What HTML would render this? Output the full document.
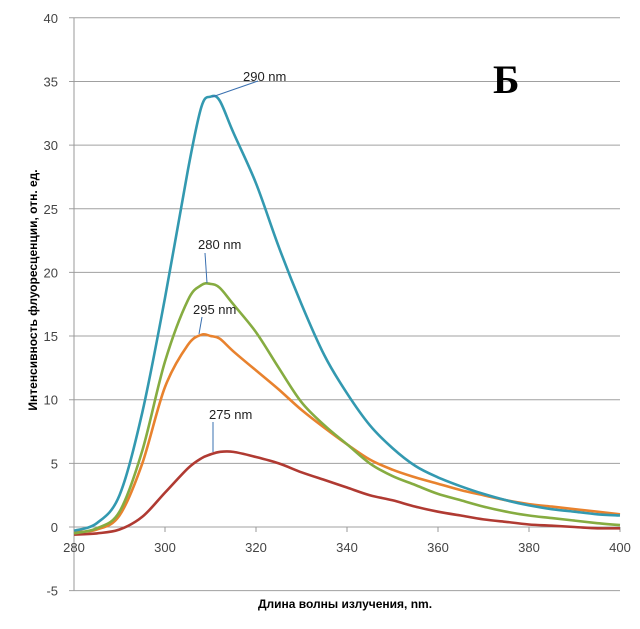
<!DOCTYPE html>
<html><head><meta charset="utf-8"><style>
body{margin:0;background:#fff}
svg{display:block;font-family:"Liberation Sans","DejaVu Sans",sans-serif}
</style></head><body>
<svg id="c" width="640" height="629"></svg>
<script>
const xs=[280,285,290,295,300,305,308,310,312,315,320,325,330,335,340,345,350,355,360,365,370,375,380,385,390,395,400];
const s290=[-0.3,0.3,2.5,9,18,28,33,33.8,33.5,31,27,22,17.5,13.5,10.5,8,6.2,4.8,3.9,3.2,2.6,2.1,1.7,1.4,1.2,1.0,0.9];
const s280=[-0.5,-0.1,1.2,6,13,17.8,19,19.1,18.8,17.5,15.3,12.5,9.8,8,6.5,5,4,3.3,2.6,2.1,1.6,1.2,0.9,0.7,0.5,0.3,0.15];
const s295=[-0.4,-0.2,0.9,5,11,14.3,15.1,15,14.8,13.8,12.3,10.8,9.2,7.8,6.5,5.3,4.5,3.9,3.4,2.9,2.5,2.1,1.8,1.6,1.4,1.2,1.0];
const s275=[-0.6,-0.5,-0.2,0.8,2.7,4.6,5.4,5.7,5.9,5.9,5.5,5,4.3,3.7,3.1,2.5,2.1,1.6,1.2,0.9,0.6,0.4,0.2,0.1,0,-0.1,-0.1];
const yTicks=[-5,0,5,10,15,20,25,30,35,40];
const xTicks=[280,300,320,340,360,380,400];
const NS="http://www.w3.org/2000/svg",svg=document.getElementById('c');
const X=v=>74+(v-280)*(546/120), Y=v=>527-v*12.73;
function el(t,a,txt){const e=document.createElementNS(NS,t);for(const k in a)e.setAttribute(k,a[k]);if(txt!=null)e.textContent=txt;svg.appendChild(e);return e;}
yTicks.forEach(v=>{
 const g=el('line',{x1:69,x2:620,y1:Y(v),y2:Y(v),stroke:'#a0a0a0','stroke-width':1});
 
 
 const t=el('text',{x:58,y:Y(v)+5,'text-anchor':'end','font-size':13,fill:'#444'},v);
 
 
});
const ax=el('line',{x1:74,x2:74,y1:Y(40),y2:Y(-5),stroke:'#999'});


xTicks.forEach(v=>{
 const tk=el('line',{x1:X(v),x2:X(v),y1:527,y2:532,stroke:'#999'});
 
 
 const t=el('text',{x:X(v),y:552,'text-anchor':'middle','font-size':13,fill:'#444'},v);
 
 
});
function series(arr,col,name){
 const P=xs.map((x,i)=>[X(x),Y(arr[i])]);
 let d='M'+P[0][0].toFixed(1)+','+P[0][1].toFixed(1);
 for(let i=0;i<P.length-1;i++){
  const p0=P[Math.max(0,i-1)],p1=P[i],p2=P[i+1],p3=P[Math.min(P.length-1,i+2)];
  const c1=[p1[0]+(p2[0]-p0[0])/6,p1[1]+(p2[1]-p0[1])/6];
  const c2=[p2[0]-(p3[0]-p1[0])/6,p2[1]-(p3[1]-p1[1])/6];
  d+=' C'+c1.map(n=>n.toFixed(1))+' '+c2.map(n=>n.toFixed(1))+' '+p2.map(n=>n.toFixed(1));
 }
 const p=el('path',{d:d,fill:'none',stroke:col,'stroke-width':2.6,'stroke-linejoin':'round'});
 
 
}
series(s275,'#b03a32','series-275nm');
series(s295,'#e8822e','series-295nm');
series(s280,'#86ac41','series-280nm');
series(s290,'#3399b0','series-290nm');
function label(txt,tx,ty,lx1,ly1,lx2,ly2,name){
 const l=el('line',{x1:lx1,y1:ly1,x2:lx2,y2:ly2,stroke:'#3a70b0','stroke-width':1});
 
 
 const t=el('text',{x:tx,y:ty,'font-size':13,fill:'#222'},txt);
 
 
}
label('290 nm',243,81,258,81,212,97,'label-290nm');
label('280 nm',198,249,205,253,207,283,'label-280nm');
label('295 nm',193,314,202,317,199,334,'label-295nm');
label('275 nm',209,419,213,422,213,452,'label-275nm');
const b=el('text',{x:493,y:93,'font-size':40,'font-weight':'bold','font-family':'"Liberation Serif",serif',fill:'#000'},'Б');


const xt=el('text',{x:345,y:608,'text-anchor':'middle','font-size':12,'font-weight':'bold',fill:'#000'},'Длина волны излучения, nm.');


const yt=el('text',{x:0,y:0,'text-anchor':'middle','font-size':12,'font-weight':'bold',fill:'#000',transform:'translate(37,290) rotate(-90)'},'Интенсивность флуоресценции, отн. ед.');


</script>
</body></html>
